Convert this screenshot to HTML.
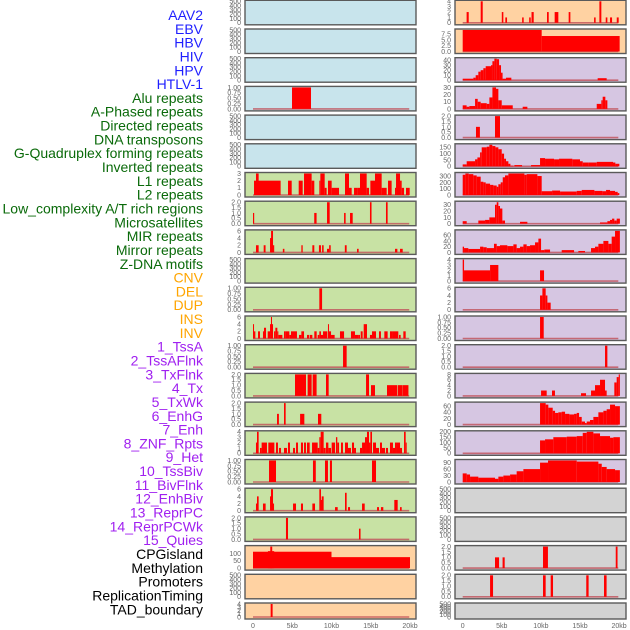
<!DOCTYPE html>
<html><head><meta charset="utf-8"><style>
html,body{margin:0;padding:0;background:#fff;width:630px;height:630px;overflow:hidden}
svg text{font-family:"Liberation Sans",sans-serif}
</style></head><body>
<svg id="chart" width="630" height="630" viewBox="0 0 630 630" xmlns="http://www.w3.org/2000/svg">
<g id="labels"></g>
<g id="panels"></g>
<g id="xaxes"></g>
</svg>
<script>
const trackLabels = ["AAV2","EBV","HBV","HIV","HPV","HTLV-1","Alu repeats","A-Phased repeats","Directed repeats","DNA transposons","G-Quadruplex forming repeats","Inverted repeats","L1 repeats","L2 repeats","Low_complexity A/T rich regions","Microsatellites","MIR repeats","Mirror repeats","Z-DNA motifs","CNV","DEL","DUP","INS","INV","1_TssA","2_TssAFlnk","3_TxFlnk","4_Tx","5_TxWk","6_EnhG","7_Enh","8_ZNF_Rpts","9_Het","10_TssBiv","11_BivFlnk","12_EnhBiv","13_ReprPC","14_ReprPCWk","15_Quies","CPGisland","Methylation","Promoters","ReplicationTiming","TAD_boundary"];
const labelGroups = [6,13,5,15,5];
const groupColors = ["#1f1fff","#0a6a0a","#ffa500","#a020f0","#000000"];
const xTicksKb = [0,5,10,15,20];
const xTickLabels = ["0","5kb","10kb","15kb","20kb"];

const tEmpty=[0,100,200,300,400,500], t1=[0,0.25,0.5,0.75,1.0], t2=[0,0.5,1.0,1.5,2.0], t3=[0,1,2,3], t4=[0,1,2,3,4], t6=[0,2,4,6], t8=[0,2,4,6,8];
const tL19=[0,50,100], tR1=[0,2.5,5.0,7.5], tR2=[0,10,20,30,40], tR3=[0,10,20,30], tR5=[0,50,100,150], tR6=[0,100,200,300], tR60=[0,20,40,60], tR15=[0,50,100,150,200], tR16=[0,30,60,90];

// segments: [startKb, endKb, value]
const segL3=[[4.97,7.39,1]];
const segL6=[[0.13,3.52,2],[0.38,0.72,3],[4.46,4.93,2],[5.82,6.33,2],[6.5,7.47,3],[7.47,7.81,2],[8.45,8.58,2],[8.58,9.13,3],[9.13,9.38,1],[9.55,10.02,2],[10.02,10.96,1],[11.72,12.23,3],[12.23,12.57,1],[12.87,13.33,1],[13.33,13.63,1],[13.63,14.48,3],[14.48,14.78,1],[14.95,15.54,2],[15.54,16.39,3],[16.39,17.03,1],[17.2,17.66,2],[18.09,18.22,1],[18.22,18.73,3],[18.73,18.94,2],[18.94,19.24,1],[19.49,19.96,1]];
const segL7=[[0,0.15,1],[7.8,8.1,1],[9.43,9.77,2],[11.6,11.8,1],[12.36,12.7,1],[14.9,15.1,2],[16.94,17.15,2]];
const segL8=[[0.38,0.72,2],[1.36,1.6,2],[2.17,2.42,4],[2.3,2.55,6],[2.55,2.7,2],[3.8,4.0,1],[6.16,6.33,2],[7.56,7.81,2],[8.4,8.66,2],[8.8,9.0,2],[9.43,9.7,1],[9.7,9.9,2],[11.7,11.93,2],[13.25,13.46,1],[18.09,18.39,1],[18.73,19.07,1]];
const segL10=[[8.45,8.8,1]];
const segL11=[[0,0.13,4],[0.13,0.3,2],[0.64,0.89,2],[1.27,1.4,2],[1.4,1.66,3],[1.87,2.17,2],[2.17,2.29,4],[2.29,2.42,6],[2.42,2.55,4],[2.68,2.85,2],[2.85,3.1,3],[3.1,3.23,2],[3.23,3.74,1],[3.95,4.12,2],[4.12,4.63,2],[4.63,4.84,1],[4.84,5.6,2],[5.86,6.16,1],[6.16,6.5,2],[6.88,7.13,1],[7.22,7.56,1],[7.81,8.11,2],[8.24,8.45,1],[8.45,8.66,2],[8.66,8.92,1],[8.92,9.47,2],[9.55,9.68,4],[9.68,9.94,2],[9.94,10.4,1],[11.08,11.6,2],[12.48,12.99,2],[12.99,13.42,1],[13.42,13.63,1],[13.72,13.97,2],[14.1,14.52,4],[14.9,15.16,1],[15.16,15.67,2],[16.05,16.3,2],[16.73,17.15,2],[17.45,17.83,2],[17.83,18.51,2],[18.6,18.81,1],[19.15,19.45,2]];
const segL12=[[11.47,11.93,1]];
const segL13=[[5.35,6.75,2],[6.96,7.47,2],[7.6,8.1,2],[9.3,9.64,2],[14.4,14.78,2],[15.03,15.54,1],[17.07,18.39,1],[18.47,19.07,1],[19.1,19.8,1]];
const segL14=[[3.06,3.3,1],[3.95,4.16,2],[6.0,6.54,1],[8.28,8.7,1]];
const segL15=[[0.38,0.59,2],[0.51,0.72,4],[0.89,1.1,1],[1.1,1.78,2],[1.95,2.72,2],[2.93,3.18,2],[3.31,3.57,1],[3.95,4.33,1],[4.46,4.71,2],[5.1,5.35,1],[5.48,5.73,2],[6.11,6.37,2],[6.5,6.75,2],[6.88,7.22,2],[7.52,8.24,2],[8.24,8.45,1],[8.45,8.62,3],[8.62,9.0,4],[9.0,9.26,1],[9.3,9.6,2],[9.6,9.94,1],[10.02,10.45,2],[10.57,10.74,3],[10.74,10.96,2],[11.21,11.46,2],[11.72,12.1,2],[12.1,12.48,1],[12.61,12.87,2],[12.87,13.12,1],[13.63,13.89,1],[13.89,14.27,2],[14.27,14.52,3],[14.52,14.78,4],[14.78,14.95,2],[14.95,15.16,4],[15.29,15.67,2],[15.67,16.05,1],[16.18,16.43,2],[16.43,16.82,1],[16.94,17.2,1],[17.45,17.83,2],[17.83,18.09,1],[18.09,18.34,2],[18.34,18.73,2],[18.73,18.98,1],[19.24,19.45,4],[19.45,19.58,2]];
const segL16=[[2.04,2.93,1],[7.64,8.0,1],[9.17,9.55,1],[9.8,10.06,1],[15.16,15.67,1]];
const segL17=[[0.38,0.59,2],[0.51,0.72,4],[1.27,1.61,2],[2.17,2.38,4],[2.29,2.55,6],[2.55,2.68,2],[5.1,5.48,2],[6.11,6.37,2],[7.56,7.9,2],[8.45,8.66,6],[8.66,8.75,3],[8.75,9.0,4],[10.45,10.79,1],[11.72,11.93,5],[12.1,12.36,1],[13.89,14.23,2],[15.8,16.05,1],[16.3,16.6,1],[18.0,18.43,3],[18.73,18.94,1]];
const segL18=[[4.2,4.46,2],[13.5,13.7,1]];
const segL19=[[0,10.0,112],[1.9,2.7,116],[2.2,2.45,147],[10.0,20.0,75]];
const segL21=[[2.25,2.5,4]];

const segR0=[[0.5,0.77,2],[2.3,2.56,4],[5.0,5.2,2],[5.45,5.67,1],[7.6,7.8,1],[8.5,8.7,1],[8.8,9.08,2],[10.78,11.0,2],[11.76,12.23,2],[13.55,13.77,2],[16.8,17.0,1],[17.48,17.73,4],[18.29,18.5,1],[18.84,19.1,1],[19.7,19.95,1]];
const segR1=[[0,10.1,9.3],[10.1,20.07,6.7]];
const segR2=[[0,1.36,3],[1.36,1.66,5],[1.66,2.0,10],[2.0,2.3,17],[2.3,2.64,20],[2.64,2.94,24],[2.94,3.62,28],[3.62,3.8,30],[3.8,4.05,38],[4.05,4.35,43],[4.35,4.65,42],[4.65,4.9,30],[4.9,5.1,15],[5.1,5.54,3],[5.54,6.22,5],[17.26,18.41,4]];
const segR3=[[0,0.5,5],[0.5,0.85,3],[0.85,1.58,4],[1.58,1.92,14],[1.92,2.3,10],[2.3,3.07,8],[3.07,3.41,7],[3.41,3.8,16],[3.8,4.26,30],[4.26,4.56,28],[4.56,4.99,12],[4.99,6.4,5],[7.67,8.27,3],[17.14,17.73,7],[17.73,17.9,12],[17.9,18.24,17],[18.24,18.5,12]];
const segR4=[[1.7,2.2,1],[4.13,4.77,2]];
const segR5=[[0,0.51,15],[0.51,1.58,40],[1.58,1.88,55],[1.88,2.22,70],[2.22,2.43,110],[2.43,3.07,150],[3.07,3.41,155],[3.41,3.79,170],[3.79,4.18,160],[4.18,4.56,150],[4.56,4.99,135],[4.99,5.29,100],[5.29,5.54,60],[5.54,5.84,40],[5.84,6.1,20],[6.1,6.48,5],[6.61,7.59,10],[8.74,9.89,10],[9.89,10.53,65],[10.53,11.68,60],[11.68,12.32,55],[12.32,14.02,60],[14.02,15.0,55],[15.0,15.35,40],[15.35,16.07,30],[16.07,17.14,30],[17.14,19.22,35],[19.22,19.52,30],[19.52,20.03,20]];
const segR6=[[0,0.34,320],[0.34,0.77,340],[0.77,1.36,330],[1.36,1.79,310],[1.79,2.3,290],[2.3,2.64,210],[2.64,2.94,200],[2.94,3.5,180],[3.5,3.92,160],[3.92,4.35,150],[4.35,4.56,130],[4.56,4.86,170],[4.86,5.12,200],[5.12,5.41,280],[5.41,5.84,310],[5.84,7.89,340],[7.89,8.18,320],[8.18,9.55,330],[9.55,10.1,300],[10.1,11.43,60],[11.43,12.45,70],[12.45,14.58,55],[14.58,15.22,65],[15.22,16.84,80],[16.84,17.86,65],[17.86,18.33,60],[18.33,18.84,80],[18.84,19.48,65],[19.48,19.82,50],[19.82,20.03,30]];
const segR7=[[0,0.51,4],[2.0,2.86,5],[2.86,3.41,6],[3.41,4.13,10],[4.13,4.35,30],[4.35,4.56,34],[4.56,4.77,28],[4.77,5.07,24],[5.07,5.41,5],[7.33,8.27,3],[17.56,18.5,2],[18.5,18.84,4],[18.84,19.1,6],[19.1,19.39,8],[19.39,19.69,5],[19.69,20.1,8]];
const segR8=[[0,0.17,20],[0.17,0.72,15],[0.72,2.22,12],[2.22,2.64,20],[2.64,3.07,18],[3.07,4.0,15],[4.0,4.35,30],[4.35,4.77,22],[4.77,5.71,25],[5.71,6.48,22],[6.48,6.9,28],[6.9,7.33,15],[7.33,7.76,20],[7.76,8.18,28],[8.18,8.61,22],[8.61,9.25,25],[9.25,9.68,35],[9.68,10.02,48],[10.02,10.44,8],[10.44,11.17,10],[12.66,14.24,8],[14.79,15.64,5],[16.41,16.92,15],[16.92,17.35,20],[17.35,17.99,30],[17.99,18.63,40],[18.63,19.05,30],[19.05,19.48,55],[19.48,20.1,75]];
const segR9=[[0,0.17,4],[0.17,3.5,2],[3.5,4.56,3],[9.89,10.4,2]];
const segR10=[[9.89,10.19,4],[10.19,10.61,6],[10.61,10.83,4],[10.83,11.25,2]];
const segR11=[[9.89,10.36,1]];
const segR12=[[18.2,18.5,2]];
const segR13=[[10.02,10.74,2],[11.42,11.8,2],[15.13,15.77,1],[16.41,16.92,2],[16.92,17.56,4],[17.56,18.2,6],[18.2,18.41,2],[19.39,19.69,5],[19.69,19.95,7],[19.95,20.1,8]];
const segR14=[[9.89,10.61,70],[10.61,10.95,65],[10.95,11.51,55],[11.51,11.81,45],[11.81,12.23,38],[12.23,12.66,40],[12.66,13.09,42],[13.09,13.64,35],[13.64,14.24,33],[14.24,14.58,35],[14.58,14.88,38],[14.88,15.22,25],[15.22,15.64,10],[15.64,15.86,5],[15.86,16.28,10],[16.28,16.71,15],[16.71,17.35,25],[17.35,17.99,40],[17.99,18.41,45],[18.41,18.84,50],[18.84,19.48,65],[19.48,20.1,60]];
const segR15=[[9.89,10.53,120],[10.53,11.59,130],[11.59,13.3,150],[13.3,14.58,155],[14.58,15.35,160],[15.35,15.86,190],[15.86,16.71,200],[16.71,17.56,185],[17.56,18.84,160],[18.84,19.27,145],[19.27,20.1,150]];
const segR16=[[0,0.51,40],[0.51,0.94,35],[0.94,2.0,25],[2.0,4.13,20],[4.13,4.56,15],[4.56,5.2,25],[5.2,6.06,30],[6.06,6.9,35],[6.9,7.76,50],[7.76,9.89,60],[9.89,10.91,90],[10.91,14.58,100],[14.58,17.35,95],[17.35,17.78,85],[17.78,18.41,70],[18.41,19.48,60],[19.48,20.1,55]];
const segR19=[[4.13,4.65,1],[5.1,5.37,1],[10.27,10.9,2],[19.57,19.8,2]];
const segR20=[[3.5,3.88,2],[10.27,10.61,2],[11.25,11.55,2],[15.8,16.1,2],[18.07,18.4,2]];

const BLUE="#c8e4ec", GREEN="#c8e2a4", ORANGE="#ffd2a2", LAV="#d6c6e2", GRAY="#d3d3d3";
// [column, row, background, ticks, ymax, segments]
const panelDefs = [
 [0,0,BLUE,tEmpty,500,null],[0,1,BLUE,tEmpty,500,null],[0,2,BLUE,tEmpty,500,null],[0,3,BLUE,t1,1,segL3],[0,4,BLUE,tEmpty,500,null],[0,5,BLUE,tEmpty,500,null],
 [0,6,GREEN,t3,3,segL6],[0,7,GREEN,t2,2,segL7],[0,8,GREEN,t6,6,segL8],[0,9,GREEN,tEmpty,500,null],[0,10,GREEN,t1,1,segL10],[0,11,GREEN,t6,6,segL11],[0,12,GREEN,t1,1,segL12],[0,13,GREEN,t2,2,segL13],[0,14,GREEN,t2,2,segL14],[0,15,GREEN,t4,4,segL15],[0,16,GREEN,t1,1,segL16],[0,17,GREEN,t6,6,segL17],[0,18,GREEN,t2,2,segL18],
 [0,19,ORANGE,tL19,147,segL19],[0,20,ORANGE,tEmpty,500,null],[0,21,ORANGE,t4,4,segL21],
 [1,0,ORANGE,t4,4,segR0],[1,1,ORANGE,tR1,9.3,segR1],
 [1,2,LAV,tR2,43,segR2],[1,3,LAV,tR3,30,segR3],[1,4,LAV,t2,2,segR4],[1,5,LAV,tR5,170,segR5],[1,6,LAV,tR6,340,segR6],[1,7,LAV,tR3,34,segR7],[1,8,LAV,tR60,75,segR8],[1,9,LAV,t4,4,segR9],[1,10,LAV,t6,6,segR10],[1,11,LAV,t1,1,segR11],[1,12,LAV,t2,2,segR12],[1,13,LAV,t8,8,segR13],[1,14,LAV,tR60,70,segR14],[1,15,LAV,tR15,200,segR15],[1,16,LAV,tR16,100,segR16],
 [1,17,GRAY,tEmpty,500,null],[1,18,GRAY,tEmpty,500,null],[1,19,GRAY,t2,2,segR19],[1,20,GRAY,t2,2,segR20],[1,21,GRAY,tEmpty,500,null]
];

const NS="http://www.w3.org/2000/svg";
function mk(tag, attrs, parent){const e=document.createElementNS(NS,tag);for(const k in attrs)e.setAttribute(k,attrs[k]);parent.appendChild(e);return e;}
const colLeft=[245,455], colWidth=171, x0=[253,462.7], pxPerKb=[7.85,7.82];
function xScale(col,kb){return x0[col]+kb*pxPerKb[col];}
function panelTop(row){return 0.3+row*28.7;}
function panelH(row){return row===21?16:24.5;}
function fmt(t,ticks){const dec=ticks.some(v=>Math.round(v*100)%100!==0)?(ticks.some(v=>Math.round(v*100)%10!==0)?2:1):0;return t.toFixed(dec);}

// labels
const lg=document.getElementById('labels');
let gi=0,cnt=0;
trackLabels.forEach((lab,i)=>{
  while(cnt>=labelGroups[gi]){gi++;cnt=0;}
  cnt++;
  const t=mk('text',{x:203,y:(20+i*13.82).toFixed(1),'text-anchor':'end','font-size':'14',fill:groupColors[gi]},lg);
  
  
  t.textContent=lab;
});

// panels
const pg=document.getElementById('panels');
panelDefs.forEach(d=>{
  const [col,row,bg,ticks,ymax,segs]=d;
  const top=panelTop(row), h=panelH(row), left=colLeft[col];
  const g=mk('g',{},pg);
  
  
  const r=mk('rect',{x:left,y:top,width:colWidth,height:h,fill:bg,stroke:'#5a5a5a','stroke-width':1.4},g);
  
  
  const yS=v=>top+1+(1-v/ymax)*(h-3);
  ticks.forEach(t=>{
    const tx=mk('text',{x:left-4,y:(yS(t)+2.4).toFixed(1),'text-anchor':'end','font-size':'7',fill:'#666'},g);
    
    
    tx.textContent=fmt(t,ticks);
  });
  if(segs){
    const bl=mk('line',{x1:xScale(col,0),x2:xScale(col,19.9),y1:yS(0),y2:yS(0),stroke:'#c0505a','stroke-width':1.6,'stroke-opacity':0.8},g);
    
    
    segs.forEach(s=>{
      const xa=xScale(col,s[0]), xb=xScale(col,s[1]);
      const b=mk('rect',{x:xa.toFixed(2),y:yS(s[2]).toFixed(2),width:Math.max(1,xb-xa).toFixed(2),height:(yS(0)-yS(s[2])).toFixed(2),fill:'#ff0000'},g);
      
      
    });
  }
});

// x axes
const xg=document.getElementById('xaxes');
[0,1].forEach(col=>{
  xTicksKb.forEach((kb,i)=>{
    const t=mk('text',{x:xScale(col,kb).toFixed(1),y:628,'text-anchor':'middle','font-size':'7',fill:'#666'},xg);
    
    
    t.textContent=xTickLabels[i];
  });
});
</script>
</body></html>
